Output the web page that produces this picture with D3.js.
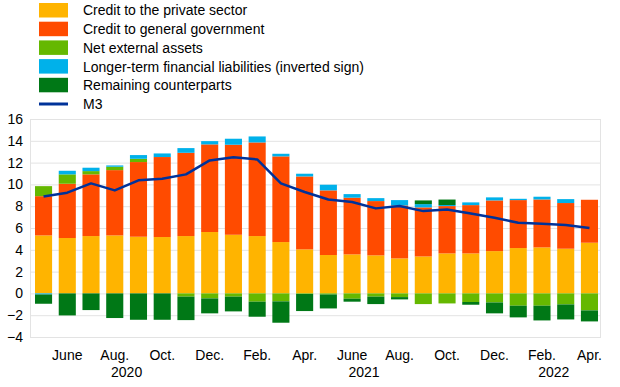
<!DOCTYPE html>
<html>
<head>
<meta charset="utf-8">
<script src="https://cdn.jsdelivr.net/npm/d3@7"></script>
<style>
  body { margin: 0; background: #fff; }
  text { font-family: "Liberation Sans", Arial, sans-serif; fill: #000; }
</style>
</head>
<body>
<div id="chart"></div>
<script>
const width = 620;
const height = 387;

// months May 2020 - Apr 2022
const months = ["2020-05", "2020-06", "2020-07", "2020-08", "2020-09", "2020-10", "2020-11", "2020-12",
    "2021-01", "2021-02", "2021-03", "2021-04", "2021-05", "2021-06", "2021-07", "2021-08", "2021-09",
    "2021-10", "2021-11", "2021-12", "2022-01", "2022-02", "2022-03", "2022-04"];
const monthNames = ["Jan.", "Feb.", "Mar.", "Apr.", "May", "June", "July", "Aug.", "Sep.", "Oct.", "Nov.", "Dec."];

const privateSector = [5.32, 5.08, 5.26, 5.32, 5.20, 5.17, 5.26, 5.63, 5.38, 5.26, 4.71, 4.04,
    3.52, 3.58, 3.49, 3.21, 3.39, 3.67, 3.67, 3.88, 4.16, 4.22, 4.10, 4.65];
const generalGov = [3.60, 4.98, 5.66, 5.99, 6.85, 7.34, 7.64, 8.04, 8.26, 8.59, 7.86, 6.69,
    5.93, 5.20, 4.98, 4.86, 4.50, 4.34, 4.43, 4.65, 4.40, 4.40, 4.19, 3.94];
const netExternal = [0.92, 0.86, 0.30, 0.31, 0.30, 0.00, -0.30, -0.46, -0.30, -0.76, -0.73, -0.05,
    -0.10, -0.49, -0.30, -0.34, -0.98, -0.92, -0.79, -0.83, -1.13, -1.13, -1.01, -1.56];
const longerTerm = [-0.10, 0.33, 0.31, 0.12, 0.34, 0.33, 0.43, 0.30, 0.55, 0.55, 0.24, 0.25,
    0.52, 0.33, 0.27, 0.49, 0.30, 0.10, 0.25, 0.28, 0.12, 0.25, 0.36, 0.00];
const remaining = [-0.85, -2.02, -1.53, -2.26, -2.42, -2.42, -2.15, -1.37, -1.35, -1.38, -1.96, -1.57,
    -1.28, -0.27, -0.68, -0.21, 0.34, 0.50, -0.25, -1.00, -1.07, -1.35, -1.38, -1.01];
const m3 = [8.90, 9.24, 10.09, 9.45, 10.37, 10.52, 10.92, 12.20, 12.50, 12.29, 10.09, 9.30,
    8.62, 8.38, 7.80, 8.01, 7.55, 7.70, 7.34, 6.94, 6.48, 6.39, 6.27, 6.00];

const yTicks = [-4, -2, 0, 2, 4, 6, 8, 10, 12, 14, 16];

const series = [
    { key: "private", label: "Credit to the private sector", color: "#ffb400", values: privateSector },
    { key: "gov", label: "Credit to general government", color: "#ff4b00", values: generalGov },
    { key: "nea", label: "Net external assets", color: "#65b800", values: netExternal },
    { key: "ltfl", label: "Longer-term financial liabilities (inverted sign)", color: "#00b1ea", values: longerTerm },
    { key: "rem", label: "Remaining counterparts", color: "#007816", values: remaining }
];
const m3Color = "#003299";

const rows = months.map((m, i) => {
    const r = { month: m };
    series.forEach(s => r[s.key] = s.values[i]);
    return r;
});

const plot = { left: 30, right: 600, top: 119, bottom: 337 };

const svg = d3.select("#chart").append("svg")
    .attr("width", width)
    .attr("height", height);

const x = d3.scaleBand()
    .domain(months)
    .range([35, 598])
    .paddingInner(0.28)
    .paddingOuter(0);

const y = d3.scaleLinear()
    .domain([-4, 16])
    .range([plot.bottom, plot.top]);

// grid + frame
svg.append("g")
    .selectAll("line")
    .data(yTicks)
    .join("line")
    .attr("x1", plot.left)
    .attr("x2", plot.right)
    .attr("y1", d => y(d) + 0.5)
    .attr("y2", d => y(d) + 0.5)
    .attr("stroke", "#e3e3e3")
    .attr("stroke-width", 1);

svg.append("rect")
    .attr("x", plot.left + 0.5)
    .attr("y", plot.top + 0.5)
    .attr("width", plot.right - plot.left)
    .attr("height", plot.bottom - plot.top)
    .attr("fill", "none")
    .attr("stroke", "#e3e3e3");

// stacked bars
const stacked = d3.stack()
    .keys(series.map(s => s.key))
    .offset(d3.stackOffsetDiverging)(rows);

svg.append("g")
    .selectAll("g")
    .data(stacked)
    .join("g")
    .attr("fill", (d, i) => series[i].color)
    .selectAll("rect")
    .data(d => d)
    .join("rect")
    .attr("x", d => x(d.data.month))
    .attr("width", x.bandwidth())
    .attr("y", d => y(Math.max(d[0], d[1])))
    .attr("height", d => Math.abs(y(d[0]) - y(d[1])));

// M3 line
const line = d3.line()
    .x((d, i) => x(months[i]) + x.bandwidth() / 2)
    .y(d => y(d));

svg.append("path")
    .datum(m3)
    .attr("d", line)
    .attr("fill", "none")
    .attr("stroke", m3Color)
    .attr("stroke-width", 2.5)
    .attr("stroke-linejoin", "round");

// y axis labels
const yAxis = svg.append("g")
    .attr("transform", `translate(${plot.left},0)`)
    .call(d3.axisLeft(y).tickValues(yTicks).tickSize(0).tickPadding(7).tickFormat(d3.format("d")));
yAxis.select(".domain").remove();
yAxis.selectAll("text")
    .style("font-family", '"Liberation Sans", Arial, sans-serif')
    .style("font-size", "14px")
    .attr("fill", "#000");

// x axis labels: every second month
const xAxis = svg.append("g")
    .attr("transform", `translate(0,${plot.bottom})`)
    .call(d3.axisBottom(x)
        .tickValues(months.filter((m, i) => i % 2 === 1))
        .tickSize(0)
        .tickPadding(13.5)
        .tickFormat(m => monthNames[+m.slice(5) - 1]));
xAxis.select(".domain").remove();
xAxis.selectAll("text")
    .style("font-family", '"Liberation Sans", Arial, sans-serif')
    .style("font-size", "14px")
    .attr("fill", "#000");

// year labels centred under each year's months
const years = Array.from(d3.group(months, m => m.slice(0, 4)), ([yr, ms]) => ({
    year: yr,
    cx: (x(ms[0]) + x(ms[ms.length - 1]) + x.bandwidth()) / 2
}));
svg.append("g")
    .selectAll("text")
    .data(years)
    .join("text")
    .attr("x", d => d.cx)
    .attr("y", 377)
    .attr("text-anchor", "middle")
    .style("font-size", "14px")
    .text(d => d.year);

// legend
const legend = svg.append("g").attr("transform", "translate(39,3)");
const rowH = 18.7;
series.forEach((s, i) => {
    const g = legend.append("g").attr("transform", `translate(0,${i * rowH})`);
    g.append("rect").attr("width", 29).attr("height", 14.5).attr("fill", s.color);
    g.append("text")
        .attr("x", 44)
        .attr("y", 7.5)
        .attr("dy", "0.35em")
        .style("font-size", "14px")
        .text(s.label);
});
const m3Row = legend.append("g").attr("transform", `translate(0,${series.length * rowH})`);
m3Row.append("line")
    .attr("x1", 0).attr("x2", 29)
    .attr("y1", 7.5).attr("y2", 7.5)
    .attr("stroke", m3Color)
    .attr("stroke-width", 3);
m3Row.append("text")
    .attr("x", 44)
    .attr("y", 7.5)
    .attr("dy", "0.35em")
    .style("font-size", "14px")
    .text("M3");
</script>
</body>
</html>
